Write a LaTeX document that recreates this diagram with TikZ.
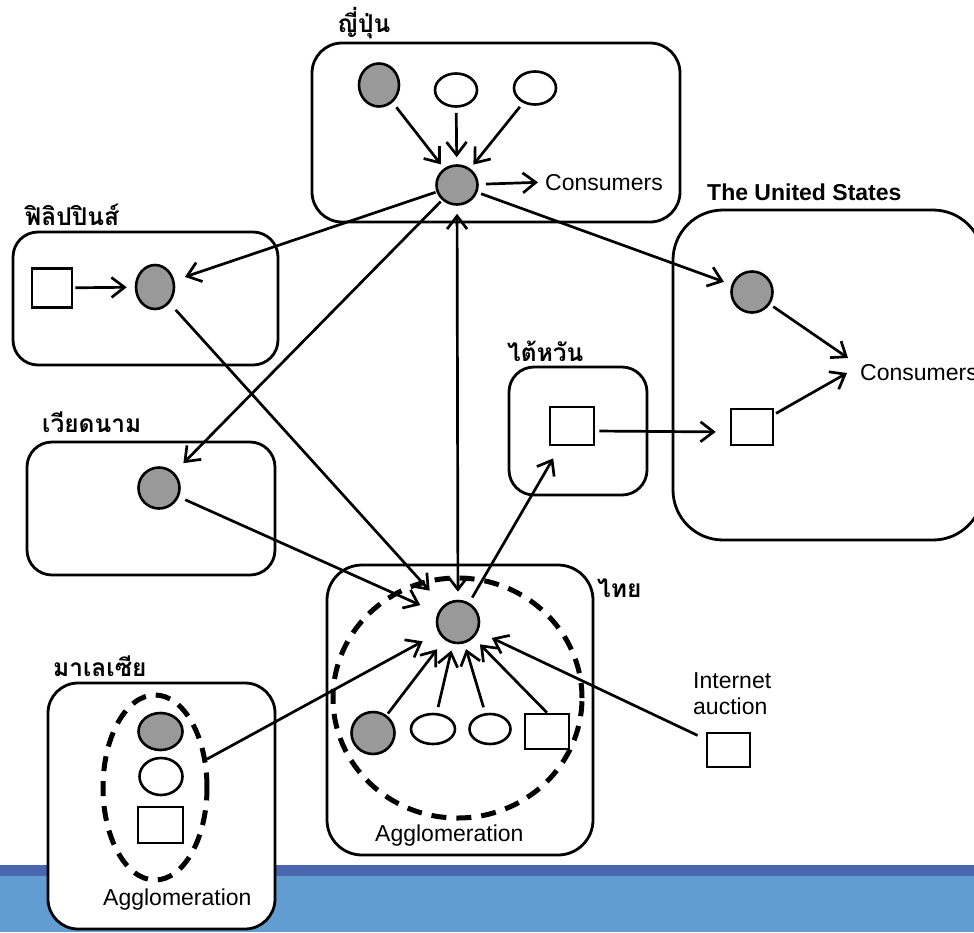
\documentclass[tikz,border=0pt]{standalone}
\usepackage{fontspec}
\setmainfont{Liberation Sans}
\newfontfamily\thaifont[Script=Thai]{Loma}
\usetikzlibrary{arrows.meta,shapes.geometric}
\definecolor{nodegray}{HTML}{999999}
\definecolor{bardark}{HTML}{4A66AE}
\definecolor{barlight}{HTML}{629DD1}
\tikzset{
  region/.style={rectangle, draw, line width=2.8pt, inner sep=0pt, fill=white},
  grayn/.style={ellipse, draw, line width=2.6pt, fill=nodegray, inner sep=0pt},
  whiten/.style={ellipse, draw, line width=2.6pt, fill=white, inner sep=0pt},
  sqn/.style={rectangle, draw, line width=2.6pt, fill=white, inner sep=0pt},
  dashell/.style={ellipse, draw, line width=5pt, dash pattern=on 15pt off 10pt, inner sep=0pt},
  arr/.style={line width=2.7pt, -{Straight Barb[length=13pt,width=20pt,line width=2.7pt]}},
  darr/.style={line width=2.7pt, {Straight Barb[length=13pt,width=20pt,line width=2.7pt]}-{Straight Barb[length=13pt,width=20pt,line width=2.7pt]}},
  thl/.style={font=\thaifont\bfseries\fontsize{24.5}{26}\selectfont, anchor=base west, inner sep=0pt},
  eng/.style={font=\fontsize{23}{26}\selectfont, anchor=base west, inner sep=0pt},
}
\begin{document}
\begin{tikzpicture}[x=1pt,y=-1pt]
\useasboundingbox (0,0) rectangle (974,932);
\clip (0,0) rectangle (974,932);
% bottom bar
\fill[bardark] (0,865) rectangle (974,876);
\fill[barlight] (0,876) rectangle (974,932);

% regions
\node[region, rounded corners=30pt, minimum width=368pt, minimum height=179pt] (jpbox) at (496,132.5) {};
\node[region, rounded corners=25pt, minimum width=265pt, minimum height=133pt] (phbox) at (145.5,298.5) {};
\node[region, rounded corners=25pt, minimum width=248pt, minimum height=133pt] (vnbox) at (151,508.5) {};
\node[region, rounded corners=25pt, minimum width=138pt, minimum height=128pt] (twbox) at (578,431) {};
\node[region, rounded corners=50pt, minimum width=310pt, minimum height=330pt] (usbox) at (828,375) {};
\node[region, rounded corners=35pt, minimum width=266pt, minimum height=290pt] (thbox) at (460,710) {};
\node[region, rounded corners=30pt, minimum width=227pt, minimum height=246pt] (mybox) at (161.5,806) {};

% labels
\node[thl] (ljp) at (337,32) {ญี่ปุ่น};
\node[thl] (lph) at (25,225) {ฟิลิปปินส์};
\node[thl] (lvn) at (42,432) {เวียดนาม};
\node[thl] (ltw) at (507,361) {ไต้หวัน};
\node[thl] (lth) at (597,597) {ไทย};
\node[thl] (lmy) at (53,676) {มาเลเซีย};
\node[font=\bfseries\fontsize{23}{26}\selectfont, anchor=base west, inner sep=0pt] (lus) at (707,200) {The United States};

% Japan
\node[grayn, minimum width=40pt, minimum height=43pt] (jg) at (379,85) {};
\node[whiten, minimum width=42pt, minimum height=33pt] (jw1) at (456,90) {};
\node[whiten, minimum width=42pt, minimum height=33pt] (jw2) at (535,88) {};
\node[grayn, minimum width=41pt, minimum height=39pt] (jc) at (457,185) {};
\node[eng] (cj) at (545,190) {Consumers};

% Philippines
\node[sqn, minimum width=40pt, minimum height=39pt] (psq) at (52,288) {};
\node[grayn, minimum width=38pt, minimum height=44pt] (pg) at (155,287) {};

% Vietnam
\node[grayn, minimum width=41pt, minimum height=41pt] (vg) at (159,488) {};

% Taiwan
\node[sqn, minimum width=44pt, minimum height=38pt] (tsq) at (572,426) {};

% United States
\node[grayn, minimum width=41pt, minimum height=41pt] (ug) at (752,292) {};
\node[sqn, minimum width=42pt, minimum height=36pt] (usq) at (752,427) {};
\node[eng] (cus) at (860,380) {Consumers};
\coordinate (c1) at (848,358);
\coordinate (c2) at (847,373);

% Thailand
\node[dashell, minimum width=249pt, minimum height=240pt] (tde) at (457.5,698) {};
\node[grayn, minimum width=42pt, minimum height=42pt] (tc) at (458,622) {};
\node[grayn, minimum width=43pt, minimum height=42pt] (tg) at (373,733) {};
\node[whiten, minimum width=44pt, minimum height=30pt] (tw1) at (433,729) {};
\node[whiten, minimum width=41pt, minimum height=30pt] (tw2) at (490,729) {};
\node[sqn, minimum width=44pt, minimum height=35pt] (tsq2) at (547,731.5) {};
\node[eng] (tag) at (375,841) {Agglomeration};

% Internet auction
\node[eng, align=left] (ia) at (693,714) {Internet\\auction};
\node[sqn, minimum width=43pt, minimum height=34pt] (iasq) at (728.5,750) {};

% Malaysia
\node[dashell, minimum width=104pt, minimum height=185pt] (mde) at (155,787.5) {};
\node[grayn, minimum width=44pt, minimum height=37pt] (mg) at (160.5,731.5) {};
\node[whiten, minimum width=43pt, minimum height=37pt] (mw) at (161,776.5) {};
\node[sqn, minimum width=45pt, minimum height=36pt] (msq) at (160.5,825) {};
\node[eng] (mag) at (103,905) {Agglomeration};

% connectors
\draw[arr, shorten <=6pt, shorten >=5pt] (jg) -- (jc);
\draw[arr, shorten <=5pt, shorten >=7pt] (jw1) -- (jc);
\draw[arr, shorten <=5pt, shorten >=5pt] (jw2) -- (jc);
\draw[arr, shorten <=7pt, shorten >=7pt] (jc) -- (cj.west);
\draw[arr, shorten <=1pt, shorten >=11pt] (jc) -- (pg);
\draw[arr, shorten <=2pt, shorten >=13pt] (jc) -- (vg);
\draw[darr, shorten <=8pt, shorten >=8pt] (jc) -- (tc);
\draw[arr, shorten <=4pt, shorten >=8pt] (jc) -- (ug);
\draw[arr, shorten <=2pt, shorten >=8pt] (psq) -- (pg);
\draw[arr, shorten <=9pt, shorten >=20pt] (pg) -- (tc);
\draw[arr, shorten <=7pt, shorten >=19pt] (vg) -- (tc);
\draw[arr, shorten >=18pt] (mde) -- (tc);
\draw[arr, shorten <=2pt, shorten >=12pt] (tg) -- (tc);
\draw[arr, shorten <=6pt, shorten >=7pt] (tw1) -- (tc);
\draw[arr, shorten <=6pt, shorten >=6pt] (tw2) -- (tc);
\draw[arr, shorten >=9pt] (tsq2.north) -- (tc);
\draw[arr, shorten <=9pt, shorten >=15pt] (iasq) -- (tc);
\draw[arr, shorten <=6pt, shorten >=14pt] (tc) -- (tsq);
\draw[arr, shorten <=4pt, shorten >=14pt] ([yshift=-5pt]tsq.east) -- ([yshift=-5pt]usq.west);
\draw[arr, shorten <=4pt] (ug) -- (c1);
\draw[arr, shorten <=2pt] (usq) -- (c2);
\end{tikzpicture}
\end{document}
